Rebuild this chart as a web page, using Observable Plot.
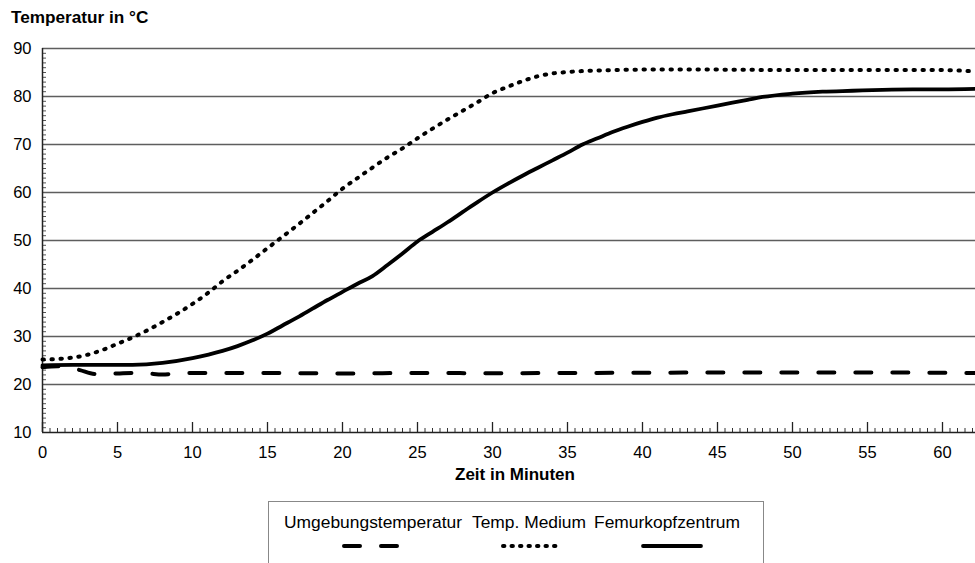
<!DOCTYPE html>
<html><head><meta charset="utf-8">
<script src="https://cdn.jsdelivr.net/npm/d3@7"></script>
<script src="https://cdn.jsdelivr.net/npm/@observablehq/plot@0.6"></script>
<style>
body{margin:0;background:#fff;font-family:"Liberation Sans",Arial,Helvetica,sans-serif;color:#000;}
#wrap{position:relative;width:975px;height:563px;overflow:hidden;background:#fff;}
#title{position:absolute;left:11px;top:9px;font-size:17.2px;font-weight:bold;line-height:1;white-space:nowrap;}
#chart{position:absolute;left:0;top:30px;}
#legend{position:absolute;left:268px;top:501px;width:496px;height:80px;border:1px solid #888;box-sizing:border-box;}
.lt{position:absolute;top:12px;width:220px;text-align:center;font-size:17.4px;line-height:1;white-space:nowrap;}
.ls{position:absolute;top:39px;}
</style>
</head><body>
<div id="wrap">
  <div id="title">Temperatur in °C</div>
  <div id="chart"></div>
  <div id="legend"></div>
</div>
<script>
// ---- data ----
const xTicks = [0, 5, 10, 15, 20, 25, 30, 35, 40, 45, 50, 55, 60];
const yTicks = [10, 20, 30, 40, 50, 60, 70, 80, 90];
const xLabel = "Zeit in Minuten";
const seriesNames = ["Umgebungstemperatur", "Temp. Medium", "Femurkopfzentrum"];

const ambientTime = [0, 1, 1.5, 2.5, 3.5, 5, 6, 7, 8, 9, 10, 12, 15, 20, 25, 30, 35, 40, 45, 50, 55, 60, 62.2];
const ambientTemp = [23.6, 23.8, 23.8, 23.0, 22.2, 22.3, 22.4, 22.3, 22.1, 22.3, 22.4, 22.4, 22.4, 22.3, 22.4, 22.35, 22.4, 22.45, 22.5, 22.5, 22.5, 22.45, 22.4];

const mediumTime = [0,1,2,3,4,5,6,7,8,9,10,11,12,13,14,15,16,17,18,19,20,21,22,23,24,25,26,27,28,29,30,31,32,33,34,35,36,38,40,45,50,55,60,62.2];
const mediumTemp = [25.2,25.3,25.6,26.2,27.2,28.5,29.8,31.3,33.0,34.8,36.8,39.0,41.5,43.7,46.0,48.4,50.8,53.2,55.7,58.2,60.8,63.0,65.2,67.3,69.2,71.3,73.3,75.2,77.0,78.8,80.7,82.0,83.2,84.2,84.8,85.1,85.3,85.5,85.6,85.6,85.5,85.5,85.5,85.2];

const femurTime = [0,2,4,6,8,10,12,13,14,15,16,17,18,19,20,21,22,23,24,25,26,27,28,29,30,31,32,33,34,35,36,37,38,39,40,41,42,43,44,45,46,47,48,50,52,54,56,58,60,62.2];
const femurTemp = [24.0,24.1,24.1,24.1,24.5,25.5,27.0,28.0,29.2,30.6,32.3,34.0,35.8,37.6,39.3,41.0,42.6,44.9,47.3,49.8,51.8,53.8,55.9,58.0,60.0,61.8,63.5,65.1,66.7,68.3,70.0,71.3,72.6,73.7,74.7,75.6,76.3,76.9,77.5,78.1,78.7,79.3,79.9,80.6,81.0,81.2,81.4,81.5,81.5,81.6];

// ---- build tables ----
const zip = (ts, vs) => ts.map((t, i) => ({t, v: vs[i]}));
const ambient = zip(ambientTime, ambientTemp);
const medium = zip(mediumTime, mediumTemp);
const femur = zip(femurTime, femurTemp);
const minorX = d3.range(0, 62.01, 0.5).filter(v => v % 5 !== 0);
const minorY = d3.range(11, 90, 1).filter(v => v % 10 !== 0);
const gridY = yTicks.filter(v => v > 10);

const styles = [
  {strokeWidth: 4, strokeDasharray: "16,21", strokeLinecap: "round"},
  {strokeWidth: 4, strokeDasharray: "1.4,7.6", strokeLinecap: "round"},
  {strokeWidth: 3.8, strokeLinecap: "round"}
];
const W = 975, H = 460, mT = 18, mB = 58, mL = 42, mR = 0;
const frameH = H - mT - mB, frameW = W - mL - mR;
const font = '"Liberation Sans", Arial, Helvetica, sans-serif';

const chart = Plot.plot({
  width: W, height: H,
  marginTop: mT, marginBottom: mB, marginLeft: mL, marginRight: mR,
  style: {fontFamily: font, fontSize: "16px", color: "#000", background: "transparent", overflow: "visible"},
  x: {domain: [0, 62.2]},
  y: {domain: [10, 90]},
  marks: [
    Plot.ruleY(gridY, {stroke: "#5e5e5e", strokeWidth: 1.3}),
    Plot.tickX(minorX, {x: d => d, stroke: "#333", strokeWidth: 1, insetTop: frameH - 4}),
    Plot.tickX(xTicks, {x: d => d, stroke: "#222", strokeWidth: 1.3, insetTop: frameH - 10}),
    Plot.tickY(minorY, {y: d => d, stroke: "#555", strokeWidth: 1, insetRight: frameW - 4}),
    Plot.ruleX([0], {stroke: "#222", strokeWidth: 1.5}),
    Plot.ruleY([10], {stroke: "#222", strokeWidth: 1.5}),
    Plot.axisY({ticks: yTicks, tickSize: 0, tickPadding: 11, fontSize: 16.5, label: null}),
    Plot.axisX({ticks: xTicks, tickSize: 0, tickPadding: 14, fontSize: 16.5, label: null}),
    Plot.text([xLabel], {frameAnchor: "bottom", lineAnchor: "middle", dy: 42, dx: 6, fontWeight: "bold", fontSize: 17, fill: "#000"}),
    Plot.line(ambient, {x: "t", y: "v", curve: "monotone-x", stroke: "#000", ...styles[0]}),
    Plot.line(medium, {x: "t", y: "v", curve: "monotone-x", stroke: "#000", ...styles[1]}),
    Plot.line(femur, {x: "t", y: "v", curve: "monotone-x", stroke: "#000", ...styles[2]})
  ]
});
document.getElementById("chart").appendChild(chart);

// ---- legend ----
const legend = document.getElementById("legend");
const textCenters = [104, 260, 398];      // relative to legend box
const symbols = [[73, 130], [232, 289], [372, 434]];
seriesNames.forEach((name, i) => {
  const t = document.createElement("div");
  t.className = "lt";
  t.style.left = (textCenters[i] - 110) + "px";
  t.textContent = name;
  legend.appendChild(t);
  const [a, b] = symbols[i];
  const ns = "http://www.w3.org/2000/svg";
  const s = document.createElementNS(ns, "svg");
  s.setAttribute("class", "ls");
  s.setAttribute("width", b - a + 8);
  s.setAttribute("height", 10);
  s.style.left = (a - 4) + "px";
  const ln = document.createElementNS(ns, "line");
  ln.setAttribute("x1", 6);
  ln.setAttribute("x2", b - a + 2);
  ln.setAttribute("y1", 5); ln.setAttribute("y2", 5);
  ln.setAttribute("stroke", "#000");
  ln.setAttribute("stroke-width", styles[i].strokeWidth);
  if (i === 0) ln.setAttribute("stroke-dasharray", "16,21");
  if (i === 1) ln.setAttribute("stroke-dasharray", "1.4,7.1");
  ln.setAttribute("stroke-linecap", "round");
  s.appendChild(ln);
  legend.appendChild(s);
});
</script>
</body></html>
